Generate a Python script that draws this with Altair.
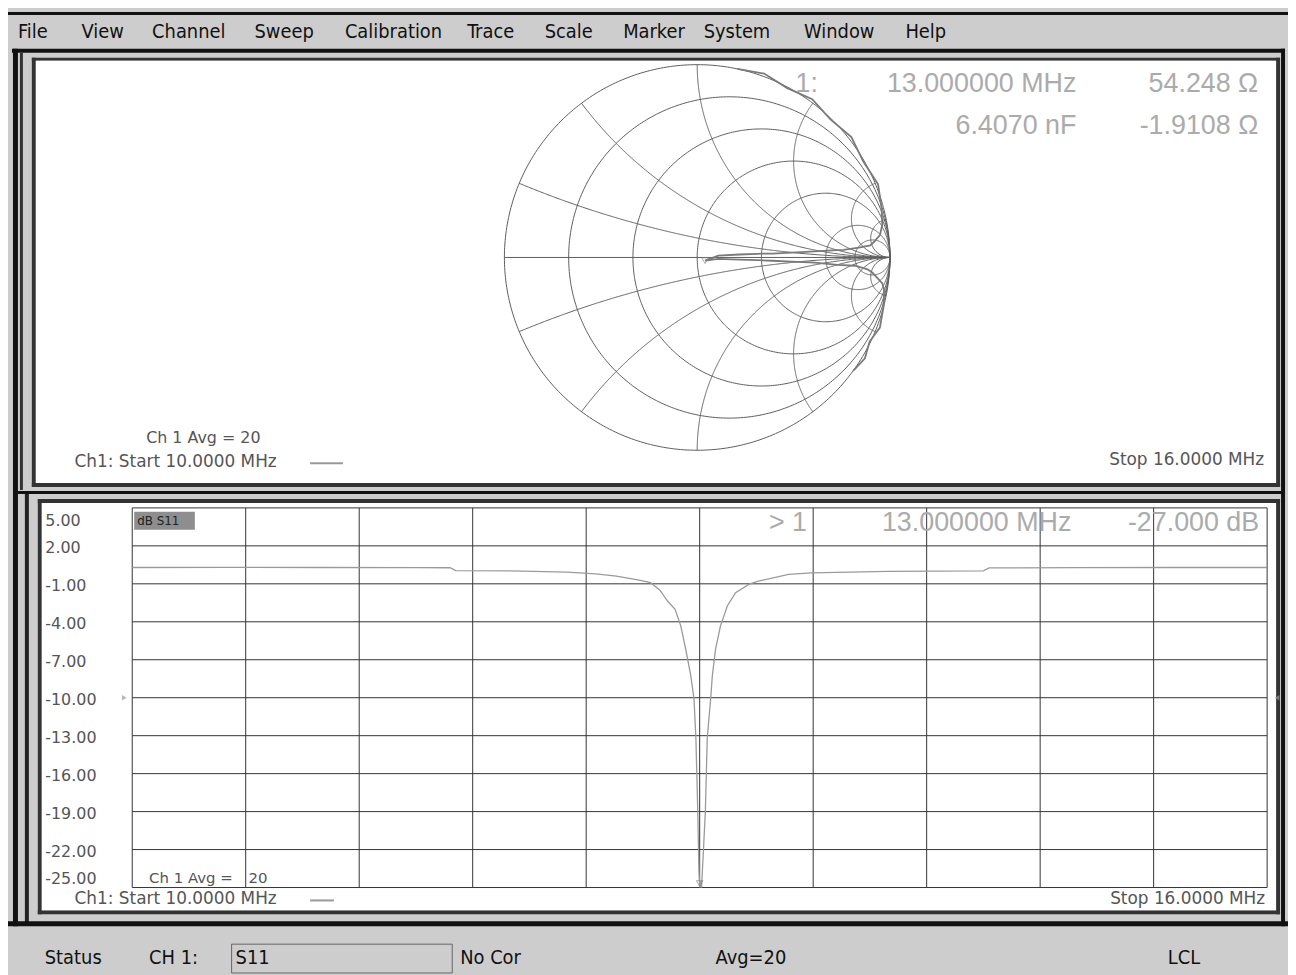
import altair as alt
import numpy as np
import pandas as pd

OFF = 8  # page margin: screen pixel -> chart pixel

# ---------------- data ----------------
menu_items = ["File", "View", "Channel", "Sweep", "Calibration", "Trace",
              "Scale", "Marker", "System", "Window", "Help"]

# lower panel: log-magnitude S11 trace (MHz, dB)
trace_freq = [10.0, 10.5, 11.0, 11.5, 11.68, 11.71, 12.0, 12.3, 12.45, 12.56,
              12.68, 12.74, 12.79, 12.83, 12.87, 12.90, 12.926, 12.953, 12.97,
              12.98, 12.99, 12.996, 13.0, 13.004, 13.01, 13.02, 13.03, 13.04,
              13.058, 13.067, 13.084, 13.11, 13.146, 13.19, 13.26, 13.31,
              13.47, 13.59, 14.0, 14.5, 14.53, 15.0, 15.5, 16.0]
trace_db = [0.29, 0.30, 0.29, 0.28, 0.27, 0.05, 0.02, -0.08, -0.21, -0.40,
            -0.71, -0.91, -1.50, -2.36, -3.01, -4.32, -6.15, -8.25, -10.1,
            -13.2, -19.0, -23.7, -27.0, -24.5, -26.0, -22.0, -19.0, -13.2,
            -10.1, -8.25, -6.15, -4.32, -2.75, -1.70, -1.05, -0.79,
            -0.26, -0.13, -0.02, 0.02, 0.26, 0.28, 0.29, 0.29]

# upper panel: Smith chart trace (|Gamma|, angle in degrees)
smith_freq = [10.0, 10.3, 10.6, 10.9, 11.2, 11.5, 11.8, 12.1, 12.3, 12.45, 12.56,
              12.68, 12.74, 12.79, 12.83, 12.87, 12.90, 12.926, 12.953, 12.97,
              12.98, 12.99, 13.0, 13.01, 13.03, 13.04, 13.058, 13.067, 13.084,
              13.11, 13.146, 13.19, 13.26, 13.31, 13.47, 13.59, 14.0, 14.5,
              15.0, 15.5, 16.0]
smith_mag = [1.0, 1.015, 0.995, 1.015, 0.995, 1.015, 0.995, 1.012, 0.99, 0.975, 0.955,
             0.92, 0.90, 0.84, 0.76, 0.70, 0.61, 0.49, 0.39, 0.31, 0.22, 0.11,
             0.044, 0.08, 0.11, 0.22, 0.31, 0.39, 0.49, 0.61, 0.73, 0.82, 0.886,
             0.913, 0.97, 0.985, 1.0, 1.015, 0.995, 1.015, 1.0]
smith_ang = [78, 70, 62, 54, 46, 38, 30, 22, 15, 10, 7, 5, 4, 3.5, 3, 3, 3, 3, 3,
             3.5, 4, 5, -22.5, -8, -4, -3, -2.5, -2.5, -2.5, -2.5, -3, -3, -4, -5,
             -8, -10, -15, -21, -26, -31, -36]

marker_freq = [13.0]
marker_db = [-27.0]
marker_re = [0.041]
marker_im = [-0.017]

db_ticks = [5, 2, -1, -4, -7, -10, -13, -16, -19, -22, -25]
smith_r = [0, 0.2, 0.5, 1, 2, 5, 10]
smith_x = [0.2, 0.5, 1, 2, 5, 10]

# ---------------- helpers ----------------
UI = "Liberation Sans Narrow, DejaVu Sans Condensed, Liberation Sans, sans-serif"
SMALL = "DejaVu Sans, Liberation Sans, sans-serif"
READ = "Liberation Sans, Arial, sans-serif"
one = alt.Data(values=[{"a": 1}])


def px(v):
    return v - OFF


def rect(x1, y1, x2, y2, color):
    return alt.Chart(one).mark_rect(color=color).encode(
        x=alt.value(px(x1)), x2=alt.value(px(x2)),
        y=alt.value(px(y1)), y2=alt.value(px(y2)))


def text(s, x, y, size, color, font, align="left"):
    return alt.Chart(one).mark_text(
        text=s, align=align, baseline="middle", fontSize=size, color=color, font=font
    ).encode(x=alt.value(px(x)), y=alt.value(px(y)))


def hline(x1, x2, y, color, w=1.0):
    return alt.Chart(one).mark_rule(color=color, strokeWidth=w).encode(
        x=alt.value(px(x1)), x2=alt.value(px(x2)), y=alt.value(px(y)))


GRAY = "#cdcdcd"
READC = "#ababab"
layers = []

# ---------------- window chrome ----------------
layers += [
    rect(0, 0, 1296, 975, GRAY),
    rect(0, 9, 1296, 12, "#111"),              # window top edge
    # top panel frame
    rect(12, 46, 1293, 50, "#111"),
    rect(13, 46, 18, 929, "#111"),
    rect(20, 50, 23, 490, "#333"),
    rect(1289, 46, 1293, 929, "#111"),
    rect(32, 55, 1288, 58, "#333"),
    rect(32, 55, 36, 487, "#333"),
    rect(1284, 55, 1288, 487, "#333"),
    rect(36, 58, 1284, 483, "white"),
    rect(32, 483, 1288, 487, "#333"),
    rect(18, 491, 1293, 494, "#111"),
    # bottom panel frame
    rect(25, 494, 29, 925, "#222"),
    rect(38, 499, 1288, 503, "#333"),
    rect(38, 499, 42, 917, "#333"),
    rect(1284, 499, 1288, 917, "#333"),
    rect(42, 503, 1284, 913, "white"),
    rect(38, 913, 1288, 917, "#333"),
    rect(0, 924, 1296, 929, "#111"),
]

# menu bar
MENU_X = [18, 82, 153, 256, 347, 470, 548, 627, 708, 809, 911]
for item, mx in zip(menu_items, MENU_X):
    layers.append(text(item, mx, 29, 20, "#111", UI))

# ---------------- Smith chart ----------------
sx = alt.Scale(domain=[-1, 1], range=[px(507.5), px(895.5)], nice=False, zero=False)
sy = alt.Scale(domain=[-1, 1], range=[px(450), px(62)], nice=False, zero=False)

rows = []
th = np.linspace(0, 2 * np.pi, 361)
for r in smith_r:
    c, rad = r / (1 + r), 1 / (1 + r)
    for i, t in enumerate(th):
        rows.append({"curve": f"r{r}", "i": i, "gr": c + rad * np.cos(t), "gi": rad * np.sin(t)})
rr = np.tan(np.linspace(0, np.pi / 2 - 1e-3, 400))
for xv in smith_x:
    for sgn in (1, -1):
        z = rr + 1j * sgn * xv
        g = (z - 1) / (z + 1)
        for i, gv in enumerate(g):
            rows.append({"curve": f"x{sgn * xv}", "i": i, "gr": gv.real, "gi": gv.imag})
for i, gv in enumerate([-1.0, 1.0]):
    rows.append({"curve": "axis", "i": i, "gr": gv, "gi": 0.0})
grid_df = pd.DataFrame(rows)

layers.append(alt.Chart(grid_df).mark_line(color="#5e5e5e", strokeWidth=1).encode(
    x=alt.X("gr:Q", scale=sx, axis=None), y=alt.Y("gi:Q", scale=sy, axis=None),
    detail="curve:N", order="i:Q"))

ang = np.deg2rad(np.array(smith_ang, dtype=float))
smith_df = pd.DataFrame({"f": smith_freq,
                         "gr": np.array(smith_mag) * np.cos(ang),
                         "gi": np.array(smith_mag) * np.sin(ang)})
layers.append(alt.Chart(smith_df).mark_line(color="#7a7a7a", strokeWidth=1.8).encode(
    x=alt.X("gr:Q", scale=sx, axis=None), y=alt.Y("gi:Q", scale=sy, axis=None), order="f:Q"))
layers.append(alt.Chart(pd.DataFrame({"gr": marker_re, "gi": marker_im})).mark_point(
    shape="triangle-down", size=45, color="#888", filled=False, strokeWidth=1).encode(
    x=alt.X("gr:Q", scale=sx, axis=None), y=alt.Y("gi:Q", scale=sy, axis=None)))

# top readouts
layers += [
    text("1:", 823, 82, 27, READC, READ, "right"),
    text("13.000000 MHz", 1083, 82, 27, READC, READ, "right"),
    text("54.248 \u03a9", 1266, 82, 27, READC, READ, "right"),
    text("6.4070 nF", 1083, 124, 27, READC, READ, "right"),
    text("-1.9108 \u03a9", 1266, 124, 27, READC, READ, "right"),
    text("Ch 1 Avg =  20", 147, 438, 16, "#555", SMALL),
    text("Ch1: Start  10.0000 MHz", 75, 462, 17, "#555", SMALL),
    text("Stop  16.0000 MHz", 1272, 460, 17, "#555", SMALL, "right"),
    hline(312, 345, 463, "#999", 2),
]

# ---------------- log-mag panel ----------------
fx = alt.Scale(domain=[10, 16], range=[px(133), px(1275)], nice=False, zero=False)
dby = alt.Scale(domain=[-25, 5], range=[px(890), px(508)], nice=False, zero=False, clamp=True)

layers.append(alt.Chart(pd.DataFrame({"f": np.linspace(10, 16, 11)})).mark_rule(
    color="#333", strokeWidth=1).encode(
    x=alt.X("f:Q", scale=fx, axis=None), y=alt.value(px(508)), y2=alt.value(px(890))))
layers.append(alt.Chart(pd.DataFrame({"v": db_ticks})).mark_rule(
    color="#333", strokeWidth=1).encode(
    y=alt.Y("v:Q", scale=dby, axis=alt.Axis(
        orient="left", values=db_ticks, title=None, domain=False, ticks=False, grid=False,
        labelExpr="replace(format(datum.value, '.2f'), '\u2212', '-')",
        labelAlign="left", labelPadding=0, offset=-px(45), labelFlush=True,
        labelFlushOffset=-3, labelOffset=2, labelFont=SMALL, labelFontSize=16,
        labelColor="#555", zindex=2)),
    x=alt.value(px(133)), x2=alt.value(px(1275))))

layers.append(rect(135, 512, 196, 530, "#8e8e8e"))
layers.append(text("dB S11", 138, 521, 12, "#222", SMALL))

db_df = pd.DataFrame({"f": trace_freq, "db": trace_db})
layers.append(alt.Chart(db_df).mark_line(color="#9a9a9a", strokeWidth=1.3).encode(
    x=alt.X("f:Q", scale=fx, axis=None), y=alt.Y("db:Q", scale=dby, axis=None), order="f:Q"))
layers.append(alt.Chart(pd.DataFrame({"f": marker_freq, "db": marker_db})).mark_point(
    shape="triangle-down", size=45, color="#888", filled=False, strokeWidth=1, yOffset=-4).encode(
    x=alt.X("f:Q", scale=fx, axis=None), y=alt.Y("db:Q", scale=dby, axis=None)))

# reference-level arrows
layers.append(alt.Chart(one).mark_point(shape="triangle-right", size=30, color="#999", filled=True).encode(
    x=alt.value(px(125)), y=alt.value(px(699))))
layers.append(alt.Chart(one).mark_point(shape="triangle-left", size=30, color="#999", filled=True).encode(
    x=alt.value(px(1285)), y=alt.value(px(699))))

layers += [
    text("> 1", 812, 523, 27, READC, READ, "right"),
    text("13.000000 MHz", 1078, 523, 27, READC, READ, "right"),
    text("-27.000 dB", 1267, 523, 27, READC, READ, "right"),
    text("Ch 1 Avg = ", 150, 880, 15, "#555", SMALL),
    text("20", 250, 880, 15, "#555", SMALL),
    text("Ch1: Start  10.0000 MHz", 75, 902, 17, "#555", SMALL),
    text("Stop  16.0000 MHz", 1273, 902, 17, "#555", SMALL, "right"),
    hline(312, 336, 903, "#999", 2),
]

# ---------------- status bar ----------------
layers.append(alt.Chart(one).mark_rect(fill=GRAY, stroke="#666", strokeWidth=1).encode(
    x=alt.value(px(233)), x2=alt.value(px(455)), y=alt.value(px(947)), y2=alt.value(px(976))))
STATUS = [("Status", 45), ("CH 1:", 150), ("S11", 237), ("No Cor", 463), ("Avg=20", 720), ("LCL", 1175)]
for s, sxp in STATUS:
    layers.append(text(s, sxp, 961, 20, "#111", UI))

chart = alt.layer(*layers).resolve_scale(x="independent", y="independent").properties(
    width=1288, height=967, padding=0,
    autosize=alt.AutoSizeParams(type="none"),
    background=GRAY,
).configure_view(strokeWidth=0)

chart.save("out.html", embed_options={"renderer": "svg", "actions": False})
